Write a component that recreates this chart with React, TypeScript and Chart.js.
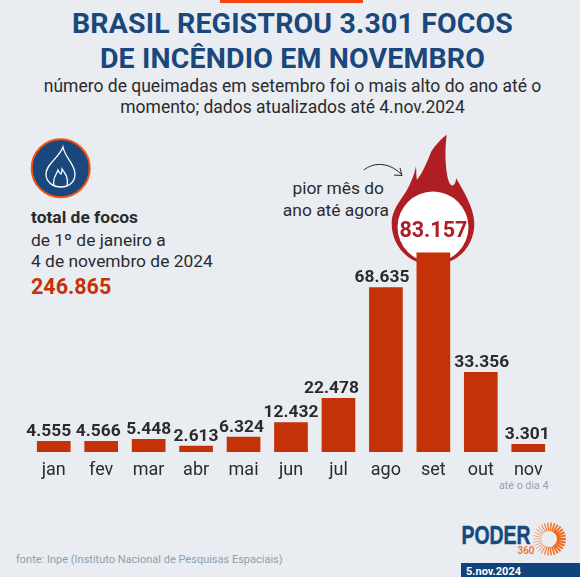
import React, { useEffect, useRef } from 'react';
import { Chart, registerables } from 'chart.js';

Chart.register(...registerables);

const months = ['jan', 'fev', 'mar', 'abr', 'mai', 'jun', 'jul', 'ago', 'set', 'out', 'nov'];
const focos = [4555, 4566, 5448, 2613, 6324, 12432, 22478, 68635, 83157, 33356, 3301];
const peakMonth = 'set';

const BLUE = '#1a477c';
const RED = '#c63208';
const DARK = '#2b2b2e';
const FONT = 'Roboto, sans-serif';

const formatBR = (n: number) => String(n).replace(/\B(?=(\d{3})+$)/g, '.');

// os rotulos nao ficam bem centrados nas barras no original
const labelNudge = [-5, -3, 0, 0, -2, 0, -7, -4, 0, 1, -1];

// valores em cima das barras (set fica dentro da chama)
const valueLabels = {
  id: 'valueLabels',
  afterDatasetsDraw(chart: Chart) {
    const ctx = chart.ctx;
    const meta = chart.getDatasetMeta(0);
    ctx.save();
    ctx.textAlign = 'center';
    ctx.textBaseline = 'alphabetic';
    meta.data.forEach((bar: any, i: number) => {
      const peak = months[i] === peakMonth;
      ctx.font = `bold ${peak ? 21.5 : 17.4}px ${FONT}`;
      ctx.fillStyle = peak ? '#ae1e24' : DARK;
      ctx.fillText(formatBR(focos[i]), bar.x + labelNudge[i], bar.y - (peak ? 15 : 5));
    });
    ctx.restore();
  },
};

const Txt = ({ x, y, w, align, size, color, weight, spacing, children }: any) => (
  <div
    style={{
      position: 'absolute',
      left: x,
      top: y,
      width: w,
      textAlign: align || 'left',
      fontFamily: FONT,
      fontSize: size,
      lineHeight: `${size + 4}px`,
      letterSpacing: spacing || 0,
      color: color || DARK,
      fontWeight: weight || 400,
      whiteSpace: 'nowrap',
    }}
  >
    {children}
  </div>
);

const rays = Array.from({ length: 30 }, (_, i) => i * 12);

const Art = () => (
  <svg width={580} height={578} style={{ position: 'absolute', left: 0, top: 0 }}>
    <rect x={220} y={0} width={143} height={3} fill="#f2450f" />
    {/* icone */}
    <circle cx={60.7} cy={168.3} r={29} fill={BLUE} stroke="#f2520f" strokeWidth={2} />
    <path
      d="M63 147 C59 158 46 164 46 174 C46 183 54 187 61 187 C69 187 75 182 75 174 C75 164 65 158 63 147 Z"
      fill="none"
      stroke="#fff"
      strokeWidth={1.3}
    />
    <path
      d="M54 186 C52 178 56 176 58 170 C59 172 60 174 61 174 C62 172 62 171 62 169 C65 173 69 178 67 186"
      fill="none"
      stroke="#fff"
      strokeWidth={1.3}
    />
    {/* seta */}
    <path d="M364 170 C372 163 388 161 401 174" fill="none" stroke="#222" strokeWidth={1} />
    <path d="M394 175 L402 175.5 L400 168" fill="none" stroke="#222" strokeWidth={1} />
    {/* chama */}
    <path
      d="M391.7 223 C392 207 404 198 410 184 C413 177 415 172 416 166 C416.5 172 416 176 417 180 C423 172 428 160 431 152 C435 145 441 139 446.7 134.7 C445 148 445 163 447 174 C448 181 450 185 452 185.5 C455 185 456 182 456 178 C463 190 474 208 474.3 223 C474.5 248 455 265 433 265 C410 265 391.5 247 391.7 223 Z"
      fill="#ae1e24"
    />
    <circle cx={433} cy={227} r={35.5} fill="#fff" />
    {/* logo */}
    <text
      x={461.5}
      y={544}
      fontFamily="'Liberation Sans', sans-serif"
      fontWeight={700}
      fontSize={25}
      fill="#144a7e"
      stroke="#144a7e"
      strokeWidth={0.5}
      textLength={69}
      lengthAdjust="spacingAndGlyphs"
    >
      PODER
    </text>
    <text x={517.5} y={554} fontFamily={FONT} fontWeight={500} fontSize={10} fill="#f26a1b">
      360
    </text>
    {rays.map((a) => {
      const t = (a * Math.PI) / 180;
      return (
        <line
          key={a}
          x1={549.5 + 8 * Math.cos(t)}
          y1={539 + 8 * Math.sin(t)}
          x2={549.5 + 16.5 * Math.cos(t)}
          y2={539 + 16.5 * Math.sin(t)}
          stroke="#f26a1b"
          strokeWidth={1.3 + 0.8 * Math.cos(t)}
        />
      );
    })}
    <path
      d="M554 531 A9.5 9.5 0 0 1 554 547"
      fill="none"
      stroke="#f26a1b"
      strokeWidth={3}
    />
    <rect x={461} y={563} width={119} height={14} fill="#0f437c" />
    <rect x={0} y={577} width={580} height={1} fill="#fff" />
  </svg>
);

export default function App() {
  const ref = useRef<HTMLCanvasElement | null>(null);

  useEffect(() => {
    if (!ref.current) return;
    const chart = new Chart(ref.current, {
      type: 'bar',
      data: {
        labels: months,
        datasets: [
          {
            data: focos,
            backgroundColor: RED,
            barPercentage: 0.71,
            categoryPercentage: 1,
          },
        ],
      },
      options: {
        responsive: false,
        animation: false,
        layout: { padding: { left: 30, right: 28, top: 236, bottom: 0 } },
        plugins: { legend: { display: false }, tooltip: { enabled: false } },
        scales: {
          x: {
            grid: { display: false },
            border: { display: false },
            afterFit: (scale: any) => {
              scale.height = 126;
            },
            ticks: {
              color: DARK,
              font: { family: 'Roboto', size: 18 },
              padding: 0,
              maxRotation: 0,
            },
          },
          y: { display: false, min: 0, max: 90000 },
        },
      },
      plugins: [valueLabels],
    });
    return () => chart.destroy();
  }, []);

  return (
    <div
      style={{
        position: 'absolute',
        left: 0,
        top: 0,
        width: 580,
        height: 578,
        background: '#e9edf1',
        overflow: 'hidden',
      }}
    >
      <Art />
      <Txt x={0} y={8} w={585} align="center" size={28.5} spacing={0.15} color={BLUE} weight={700}>
        BRASIL REGISTROU 3.301 FOCOS
      </Txt>
      <Txt x={0} y={43} w={585} align="center" size={28.5} spacing={0.15} color={BLUE} weight={700}>
        DE INCÊNDIO EM NOVEMBRO
      </Txt>
      <Txt x={0} y={76} w={585} align="center" size={17.5}>
        número de queimadas em setembro foi o mais alto do ano até o
      </Txt>
      <Txt x={0} y={97} w={585} align="center" size={17.5}>
        momento; dados atualizados até 4.nov.2024
      </Txt>
      <Txt x={31} y={207.3} size={17.4} weight={700}>total de focos</Txt>
      <Txt x={31} y={230} size={17.4}>de 1º de janeiro a</Txt>
      <Txt x={31} y={251.3} size={17.4}>4 de novembro de 2024</Txt>
      <Txt x={31} y={274} size={21.5} color={RED} weight={700}>246.865</Txt>
      <Txt x={270} y={178.3} w={114} align="right" size={17.4}>pior mês do</Txt>
      <Txt x={270} y={200.3} w={119} align="right" size={17.4}>ano até agora</Txt>
      <Txt x={499} y={479} w={70} size={10.7} color="#93a3b1">até o dia 4</Txt>
      <Txt x={16} y={551.5} size={11} color="#8c9fae">fonte: Inpe (Instituto Nacional de Pesquisas Espaciais)</Txt>
      <Txt x={466} y={563.5} size={11} color="#fff" weight={700}>5.nov.2024</Txt>
      <canvas
        ref={ref}
        width={580}
        height={578}
        style={{ position: 'absolute', left: 0, top: 0 }}
      />
    </div>
  );
}
